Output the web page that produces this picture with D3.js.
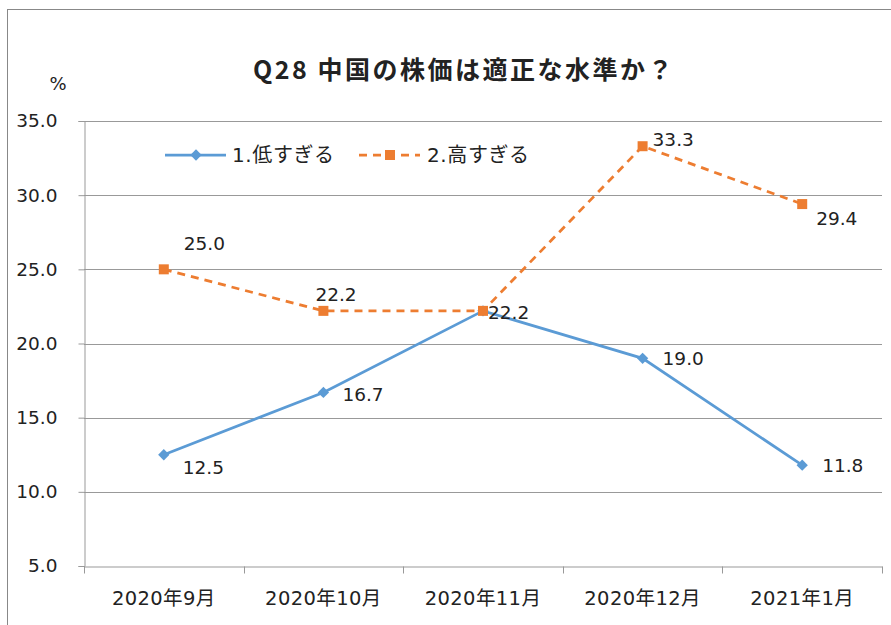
<!DOCTYPE html>
<html>
<head>
<meta charset="utf-8">
<script src="https://cdn.jsdelivr.net/npm/d3@7"></script>
<style>
  body { margin: 0; background: #fff; }
  text { font-family: "DejaVu Sans", "Noto Sans CJK JP", sans-serif; fill: #222; }
</style>
</head>
<body>
<div id="chart"></div>
<script>
// chart data
const months = ["2020年9月", "2020年10月", "2020年11月", "2020年12月", "2021年1月"];
const lowValues = [12.5, 16.7, 22.2, 19.0, 11.8];   // 1.低すぎる
const highValues = [25.0, 22.2, 22.2, 33.3, 29.4];  // 2.高すぎる
const yTicks = [5, 10, 15, 20, 25, 30, 35];

// label nudges (px) per point, so labels sit like in the original
const lowLabelDx = [19, 19, 5, 20, 20];
const lowLabelDy = [13, 2, 2, 0, 0];
const highLabelDx = [20, -8, null, 10, 14];
const highLabelDy = [-26, -16, null, -7, 14];

const width = 891;
const height = 625;
const margin = { top: 121, right: 9, bottom: 59, left: 84 };

const svg = d3.select("#chart")
  .append("svg")
  .attr("width", width)
  .attr("height", height);

// outer frame
svg.append("rect")
  .attr("x", 7.5)
  .attr("y", 9.5)
  .attr("width", width)
  .attr("height", height)
  .attr("fill", "none")
  .attr("stroke", "#888");

const x = d3.scaleBand()
  .domain(months)
  .range([margin.left, width - margin.right]);

const y = d3.scaleLinear()
  .domain([5, 35])
  .range([height - margin.bottom, margin.top]);

// gridlines
svg.append("g")
  .selectAll("line")
  .data(yTicks.slice(1))
  .join("line")
  .attr("x1", margin.left)
  .attr("x2", width - margin.right)
  .attr("y1", d => Math.round(y(d)) + 0.5)
  .attr("y2", d => Math.round(y(d)) + 0.5)
  .attr("stroke", "#999");

// y axis
const gy = svg.append("g")
  .attr("transform", `translate(${margin.left + 0.5},0)`)
  .call(d3.axisLeft(y).tickValues(yTicks).tickFormat(d3.format(".1f")).tickSize(6).tickPadding(21));
gy.select(".domain").attr("stroke", "#999");
gy.selectAll(".tick line").attr("stroke", "#999");
gy.selectAll(".tick text").style("font-size", "18.5px").attr("fill", "#222");

// x axis
const gx = svg.append("g")
  .attr("transform", `translate(0,${Math.round(y(5)) + 0.5})`)
  .call(d3.axisBottom(x).tickSize(0).tickPadding(25));
gx.select(".domain").attr("stroke", "#999");
gx.selectAll(".tick text").style("font-size", "19.5px").style("letter-spacing", "0.4px").attr("fill", "#222");
// category boundary ticks
gx.append("g")
  .selectAll("line")
  .data(months.map(m => x(m)).concat([x(months[months.length - 1]) + x.bandwidth()]))
  .join("line")
  .attr("x1", d => Math.round(d) + 0.5)
  .attr("x2", d => Math.round(d) + 0.5)
  .attr("y1", 0)
  .attr("y2", 7)
  .attr("stroke", "#999");

// title and unit
svg.append("text")
  .attr("x", 464)
  .attr("y", 79)
  .attr("text-anchor", "middle")
  .style("font-family", "\"Noto Sans CJK JP\", sans-serif")
  .style("font-size", "25px")
  .style("letter-spacing", "2.5px")
  .style("font-weight", "bold")
  .text("Q28 中国の株価は適正な水準か？");

svg.append("text")
  .attr("x", 58)
  .attr("y", 90)
  .attr("text-anchor", "middle")
  .style("font-size", "18px")
  .text("%");

const cx = m => x(m) + x.bandwidth() / 2;
const line = d3.line()
  .x((d, i) => cx(months[i]))
  .y(d => y(d));

const blue = "#5b9bd5";
const orange = "#ed7d31";

// series lines
svg.append("path")
  .datum(lowValues)
  .attr("fill", "none")
  .attr("stroke", blue)
  .attr("stroke-width", 2.75)
  .attr("d", line);

svg.append("path")
  .datum(highValues)
  .attr("fill", "none")
  .attr("stroke", orange)
  .attr("stroke-width", 2.75)
  .attr("stroke-dasharray", "8,6")
  .attr("d", line);

// markers
svg.append("g")
  .selectAll("path")
  .data(lowValues)
  .join("path")
  .attr("transform", (d, i) => `translate(${cx(months[i])},${y(d)}) rotate(45)`)
  .attr("d", "M-4,-4H4V4H-4Z")
  .attr("fill", blue);

svg.append("g")
  .selectAll("rect")
  .data(highValues)
  .join("rect")
  .attr("x", (d, i) => cx(months[i]) - 5)
  .attr("y", d => y(d) - 5)
  .attr("width", 10)
  .attr("height", 10)
  .attr("fill", orange);

// data labels
svg.append("g")
  .selectAll("text")
  .data(lowValues)
  .join("text")
  .attr("x", (d, i) => cx(months[i]) + lowLabelDx[i])
  .attr("y", (d, i) => y(d) + lowLabelDy[i])
  .attr("dy", "0.35em")
  .style("font-size", "18.5px")
  .text(d => d3.format(".1f")(d));

svg.append("g")
  .selectAll("text")
  .data(highValues.map((v, i) => ({ v, i })).filter(d => highLabelDx[d.i] !== null))
  .join("text")
  .attr("x", d => cx(months[d.i]) + highLabelDx[d.i])
  .attr("y", d => y(d.v) + highLabelDy[d.i])
  .attr("dy", "0.35em")
  .style("font-size", "18.5px")
  .text(d => d3.format(".1f")(d.v));

// legend
const legend = svg.append("g").attr("transform", "translate(165,155)");
legend.append("line")
  .attr("x1", 0).attr("x2", 61)
  .attr("stroke", blue).attr("stroke-width", 2.75);
legend.append("path")
  .attr("transform", "translate(31,0) rotate(45)")
  .attr("d", "M-4,-4H4V4H-4Z")
  .attr("fill", blue);
legend.append("text")
  .attr("x", 67).attr("dy", "0.35em")
  .style("font-size", "20px")
  .style("letter-spacing", "0.6px")
  .text("1.低すぎる");

legend.append("line")
  .attr("x1", 194).attr("x2", 255)
  .attr("stroke", orange).attr("stroke-width", 2.75)
  .attr("stroke-dasharray", "8,6");
legend.append("rect")
  .attr("x", 220).attr("y", -5).attr("width", 10).attr("height", 10)
  .attr("fill", orange);
legend.append("text")
  .attr("x", 262).attr("dy", "0.35em")
  .style("font-size", "20px")
  .style("letter-spacing", "0.6px")
  .text("2.高すぎる");
</script>
</body>
</html>
